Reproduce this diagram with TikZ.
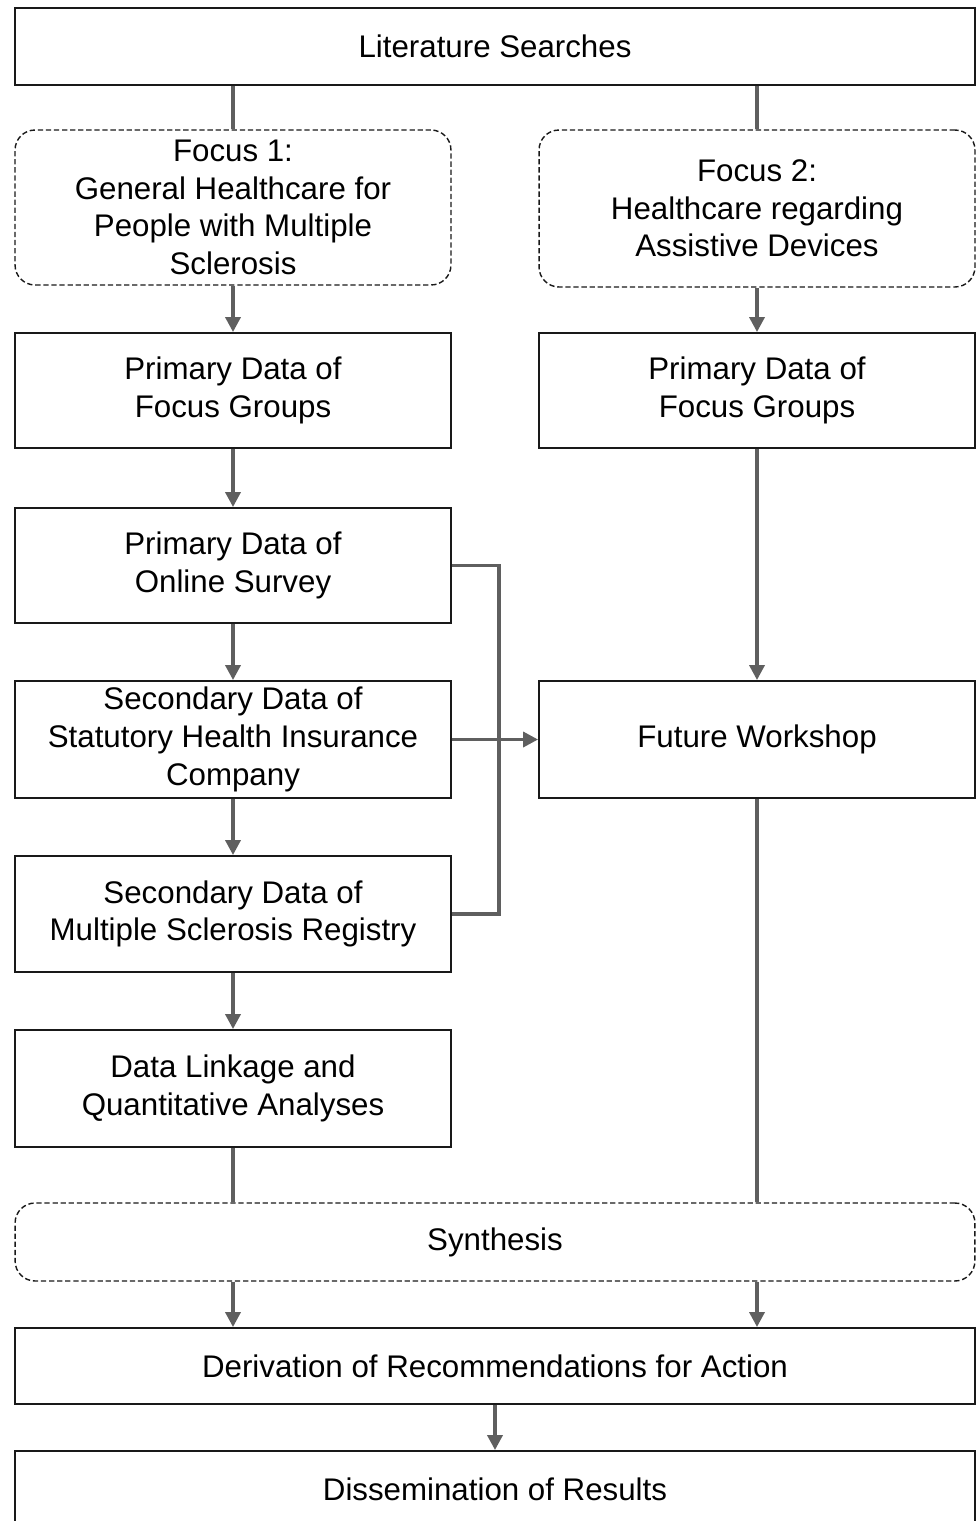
\documentclass[tikz,border=0pt]{standalone}
\usepackage{fontspec}
\setmainfont{Liberation Sans}
\usepackage{tikz}
\usetikzlibrary{arrows.meta}

\definecolor{linegray}{HTML}{5F5F5F}
\tikzset{
    box/.style={draw=black!90, line width=1.1pt, align=center, inner sep=2pt,
        font=\fontsize{17.8}{21.4}\selectfont},
    dbox/.style={box, line width=0.8pt, dash pattern=on 3pt off 1.6pt, rounded corners=0.4cm},
    conn/.style={draw=linegray, line width=2pt},
    arr/.style={conn, -{Triangle[width=8.5pt, length=8.5pt]}}
}

\begin{document}
\begin{tikzpicture}[x=0.02cm, y=-0.02cm]
    \clip (0, 0) rectangle (977, 1521);
    \node [box, minimum width=19.2cm, minimum height=1.54cm] (lit) at (495, 46.5) {Literature Searches};
    % focus 1 (left column)
    \node [dbox, minimum width=8.72cm, minimum height=3.1cm] (foc1) at (233, 207.5) {Focus 1:\\General Healthcare for\\People with Multiple\\Sclerosis};
    \node [box, minimum width=8.72cm, minimum height=2.3cm] (pfg1) at (233, 390.5) {Primary Data of\\Focus Groups};
    \node [box, minimum width=8.72cm, minimum height=2.3cm] (osv) at (233, 565.5) {Primary Data of\\Online Survey};
    \node [box, minimum width=8.72cm, minimum height=2.34cm] (shi) at (233, 739.5) {Secondary Data of\\Statutory Health Insurance\\Company};
    \node [box, minimum width=8.72cm, minimum height=2.32cm] (msr) at (233, 914) {Secondary Data of\\Multiple Sclerosis Registry};
    \node [box, minimum width=8.72cm, minimum height=2.34cm] (dla) at (233, 1088.5) {Data Linkage and\\Quantitative Analyses};
    % focus 2 (right column)
    \node [dbox, minimum width=8.72cm, minimum height=3.14cm] (foc2) at (757, 208.5) {Focus 2:\\Healthcare regarding\\Assistive Devices};
    \node [box, minimum width=8.72cm, minimum height=2.3cm] (pfg2) at (757, 390.5) {Primary Data of\\Focus Groups};
    \node [box, minimum width=8.72cm, minimum height=2.34cm] (fws) at (757, 739.5) {Future Workshop};
    % bottom
    \node [dbox, minimum width=19.2cm, minimum height=1.56cm] (syn) at (495, 1242) {Synthesis};
    \node [box, minimum width=19.2cm, minimum height=1.52cm] (der) at (495, 1366) {Derivation of Recommendations for Action};
    \node [box, minimum width=19.2cm, minimum height=1.52cm] (dis) at (495, 1489) {Dissemination of Results};
    \coordinate (brk) at (499, 740); % bracket
    % connectors
    \draw [conn] (lit.south -| foc1.north) to (foc1.north);
    \draw [conn] (lit.south -| foc2.north) to (foc2.north);
    \draw [arr] (foc1) to (pfg1);
    \draw [arr] (pfg1) to (osv);
    \draw [arr] (osv) to (shi);
    \draw [arr] (shi) to (msr);
    \draw [arr] (msr) to (dla);
    \draw [arr] (foc2) to (pfg2);
    \draw [arr] (pfg2) to (fws);
    \draw [conn] (osv.east) -| (brk) |- (msr.east);
    \draw [arr] (shi) to (fws);
    \draw [conn] (dla) to (dla |- syn.north);
    \draw [conn] (fws) to (fws |- syn.north);
    \draw [arr] (syn.south -| dla.south) to (der.north -| dla.south);
    \draw [arr] (syn.south -| fws.south) to (der.north -| fws.south);
    \draw [arr] (der) to (dis);
\end{tikzpicture}
\end{document}
